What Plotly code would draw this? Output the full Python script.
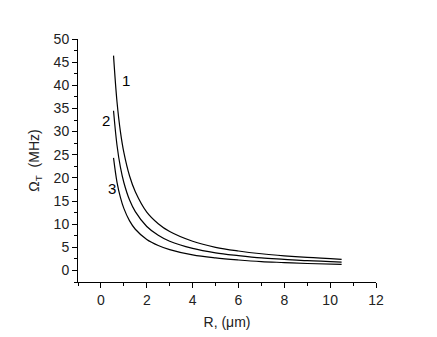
import plotly.graph_objects as go

# radius (um) and Omega_T (MHz)
r_vals = [0.55, 0.7, 0.85, 1.0, 1.25, 1.5, 2.0, 2.5, 3.0, 4.0, 5.0, 6.0, 7.0, 8.0, 9.0, 10.5]
curve1 = [46.4, 36.5, 30.0, 25.5, 20.4, 17.0, 12.6, 10.1, 8.4, 6.3, 5.0, 4.2, 3.6, 3.15, 2.8, 2.4]
curve2 = [34.5, 27.1, 22.3, 19.0, 15.2, 12.7, 9.5, 7.6, 6.3, 4.75, 3.8, 3.2, 2.7, 2.4, 2.1, 1.8]
curve3 = [24.3, 19.1, 15.8, 13.4, 10.7, 8.9, 6.7, 5.4, 4.5, 3.35, 2.7, 2.25, 1.9, 1.7, 1.5, 1.3]

label_text = ["1", "2", "3"]
label_x = [1.1, 0.2, 0.48]
label_y = [41, 32.5, 17.7]

fig = go.Figure()
for ys in (curve1, curve2, curve3):
    fig.add_trace(go.Scatter(x=r_vals, y=ys, mode="lines", line_shape="spline",
                             line=dict(color="black", width=1.2), showlegend=False))

for t, x, y in zip(label_text, label_x, label_y):
    fig.add_annotation(x=x, y=y, text=t, showarrow=False,
                       font=dict(size=15, color="black"))

axis_common = dict(showline=True, linecolor="black", linewidth=1, showgrid=False,
                   zeroline=False, ticks="outside", ticklen=5, tickcolor="black",
                   tickfont=dict(size=14, color="#222"))

fig.update_xaxes(range=[-1, 12], dtick=2, tick0=0,
                 minor=dict(dtick=1, ticks="outside", ticklen=3, tickcolor="black"),
                 title=dict(text="R, (μm)", font=dict(size=14, color="#222"), standoff=10),
                 **axis_common)
fig.update_yaxes(range=[-2.5, 50], dtick=5, tick0=0,
                 minor=dict(dtick=2.5, ticks="outside", ticklen=3, tickcolor="black"),
                 title=dict(text="Ω<sub>T</sub>  (MHz)", font=dict(size=14, color="#222"), standoff=10),
                 **axis_common)

# the page adds an 8px body margin, so the plot box is shifted to match
fig.update_layout(width=437, height=337, plot_bgcolor="white", paper_bgcolor="white",
                  font=dict(family="Liberation Sans, Arial, sans-serif"),
                  margin=dict(l=70, r=69, t=31, b=63))

fig.write_html("out.html")
